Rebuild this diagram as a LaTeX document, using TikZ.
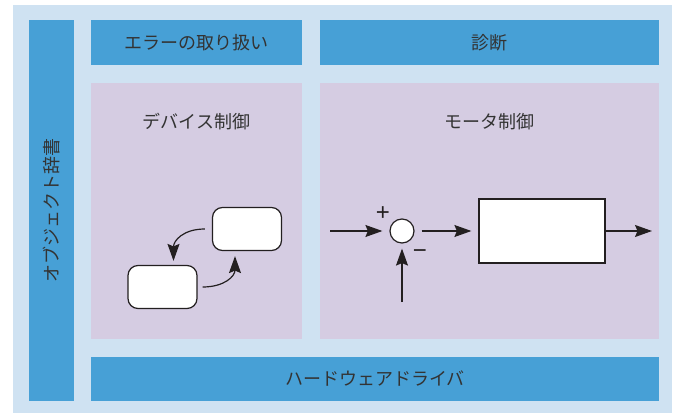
\documentclass[tikz,border=0pt]{standalone}
\usepackage{fontspec}
\setmainfont{Noto Sans CJK JP}
\newfontfamily\signfont{Liberation Sans}
\usetikzlibrary{arrows.meta}
\definecolor{outerbg}{HTML}{CFE2F2}
\definecolor{bluebox}{HTML}{47A0D6}
\definecolor{purplebox}{HTML}{D5CCE2}
\definecolor{txt}{HTML}{333333}
\definecolor{ink}{HTML}{231F20}
\tikzset{
  bluepanel/.style={fill=bluebox, draw=none, inner sep=0pt, text=txt,
    font=\fontsize{18}{21}\selectfont},
  purplepanel/.style={fill=purplebox, draw=none, inner sep=0pt},
  title/.style={text=txt, font=\fontsize{18}{21}\selectfont, inner sep=0pt},
  rbox/.style={draw=ink, fill=white, line width=1.2pt, rounded corners=10pt, inner sep=0pt,
    minimum width=69pt, minimum height=43pt},
  arr/.style={draw=ink, line width=1.2pt, -{Stealth[length=17pt,width=12pt,inset=2.5pt]}},
  sign/.style={text=ink, font=\signfont\fontsize{24}{24}\selectfont, inner sep=0pt},
}
\begin{document}
\begin{tikzpicture}[x=1pt,y=-1pt]
\useasboundingbox (0,0) rectangle (677,414);
\fill[outerbg] (13,5) rectangle (672,413);
% panels
\node[bluepanel, minimum width=45pt, minimum height=381pt] (dict) at (51.5,210.5) {};
\node[title, rotate=90] (dicttext) at (dict.center) {オブジェクト辞書};
\node[bluepanel, minimum width=211pt, minimum height=45pt] (err) at (196.5,42.5) {エラーの取り扱い};
\node[bluepanel, minimum width=339pt, minimum height=45pt] (diag) at (489.5,42.5) {診断};
\node[purplepanel, minimum width=211pt, minimum height=256pt] (dev) at (196.5,211) {};
\node[purplepanel, minimum width=339pt, minimum height=256pt] (mot) at (489.5,211) {};
\node[bluepanel, minimum width=568pt, minimum height=44pt] (hw) at (375,379) {ハードウェアドライバ};
\node[title] (devt) at (196.5,122) {デバイス制御};
\node[title] (mott) at (489.5,122) {モータ制御};
% device control
\node[rbox] (lb) at (162.5,287) {};
\node[rbox] (rb) at (247,229) {};
\draw[arr] ([xshift=-7pt]rb.west) .. controls +(-22,0) and +(0,-20) .. ([xshift=11pt,yshift=4pt]lb.north);
\draw[arr] ([xshift=5pt]lb.east) .. controls +(22,0) and +(0,20) .. ([xshift=-12pt,yshift=-5pt]rb.south);
% motor control
\node[draw=ink, fill=white, line width=1.2pt, circle, minimum size=24pt, inner sep=0pt] (sum) at (402,231) {};
\node[draw=ink, fill=white, line width=1.2pt, minimum width=126pt, minimum height=64pt, inner sep=0pt] (plant) at (542,231) {};
\coordinate (in) at (330,231);
\coordinate (fb) at (402,302);
\coordinate (out) at (652,231);
\draw[arr, shorten >=7pt] (in) -- (sum);
\draw[arr, shorten >=5pt] (fb) -- (sum);
\draw[arr, shorten <=7pt, shorten >=7pt] (sum) -- (plant);
\draw[arr] (plant) -- (out);
\node[sign] (plus) at (383,214) {+};
\node[sign] (minus) at (420,254) {−};
\end{tikzpicture}
\end{document}
